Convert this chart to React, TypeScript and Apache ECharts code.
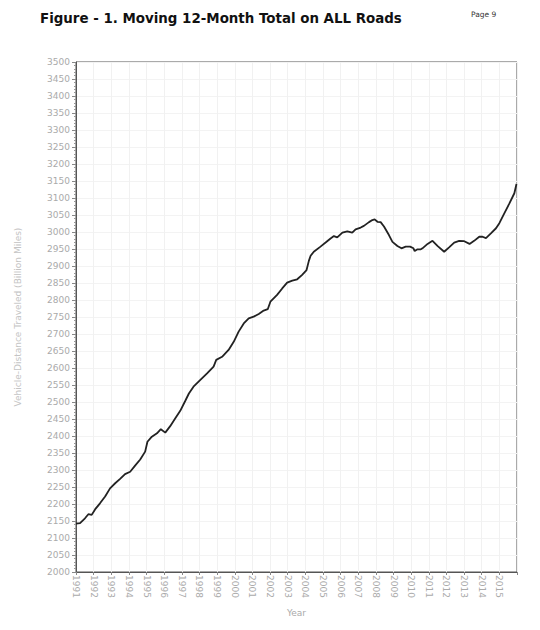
import React, { useEffect, useRef } from "react";
import * as echarts from "echarts";

const titleText = "Figure - 1. Moving 12-Month Total on ALL Roads";
const pageText = "Page 9";
const xAxisName = "Year";
const yAxisName = "Vehicle-Distance Traveled (Billion Miles)";

// decimal year positions
const years: number[] = [
  1991.0, 1991.23, 1991.51, 1991.7, 1991.89, 1992.08, 1992.36, 1992.65, 1992.93,
  1993.22, 1993.5, 1993.78, 1994.07, 1994.35, 1994.64, 1994.92, 1995.05, 1995.3,
  1995.59, 1995.81, 1996.06, 1996.34, 1996.63, 1996.91, 1997.19, 1997.4, 1997.66,
  1998.05, 1998.43, 1998.8, 1998.95, 1999.28, 1999.65, 1999.94, 2000.22, 2000.51,
  2000.79, 2001.07, 2001.36, 2001.64, 2001.87, 2002.02, 2002.4, 2002.69, 2002.97,
  2003.26, 2003.54, 2003.82, 2004.07, 2004.2, 2004.3, 2004.48, 2004.86, 2005.15,
  2005.43, 2005.62, 2005.81, 2006.1, 2006.38, 2006.66, 2006.85, 2007.14, 2007.32,
  2007.61, 2007.8, 2007.93, 2008.09, 2008.27, 2008.46, 2008.74, 2008.94, 2009.22,
  2009.45, 2009.69, 2009.94, 2010.13, 2010.2, 2010.36, 2010.55, 2010.64, 2010.93,
  2011.21, 2011.49, 2011.87, 2012.15, 2012.44, 2012.72, 2013.01, 2013.31, 2013.57,
  2013.86, 2014.05, 2014.24, 2014.52, 2014.81, 2015.0, 2015.28, 2015.57, 2015.85,
  2015.97,
];

// moving 12-month total, billion miles
const vmt: number[] = [
  2142, 2144, 2158, 2170, 2168, 2184, 2202, 2222, 2246,
  2261, 2274, 2288, 2295, 2313, 2331, 2354, 2383, 2398,
  2408, 2420, 2410, 2429, 2452, 2474, 2503, 2525, 2545,
  2565, 2584, 2604, 2624, 2633, 2653, 2677, 2707, 2731,
  2746, 2751, 2759, 2769, 2773, 2795, 2815, 2834, 2851,
  2857, 2861, 2874, 2888, 2915, 2930, 2942, 2957, 2969,
  2981, 2988, 2984, 2998, 3002, 2998, 3008, 3013, 3018,
  3029, 3035, 3037, 3030, 3029, 3016, 2991, 2971, 2959,
  2952, 2957, 2957, 2952, 2944, 2949, 2949, 2952, 2965,
  2974, 2959, 2942, 2955, 2969, 2974, 2973, 2965, 2974,
  2986, 2986, 2982, 2996, 3011, 3026, 3055, 3084, 3114,
  3141,
];

const yMin = 2000;
const yMax = 3500;
const yStep = 50;
const xMin = 1991;
const xMax = 2016;

export default function App() {
  const ref = useRef<HTMLDivElement>(null);
  useEffect(() => {
    if (!ref.current) return;
    const chart = echarts.init(ref.current, null, { renderer: "svg" });
    const font = "'DejaVu Sans', Verdana, sans-serif";
    chart.setOption({
      animation: false,
      backgroundColor: "#ffffff",
      title: [
        {
          text: titleText,
          left: 40,
          top: 12,
          padding: 0,
          textStyle: { fontFamily: font, fontWeight: "bold", fontSize: 13.4, color: "#111" },
        },
        {
          text: pageText,
          left: 471,
          top: 10,
          padding: 0,
          textStyle: { fontFamily: font, fontWeight: "normal", fontSize: 7.5, color: "#333" },
        },
      ],
      grid: {
        left: 76,
        right: 23,
        top: 62,
        bottom: 58,
        show: true,
        borderColor: "#555",
        borderWidth: 1,
      },
      xAxis: {
        type: "value",
        min: xMin,
        max: xMax,
        interval: 1,
        name: xAxisName,
        nameLocation: "middle",
        nameGap: 36,
        nameTextStyle: { fontFamily: font, fontSize: 9, color: "#aaa" },
        axisLine: { show: true, lineStyle: { color: "#555" } },
        axisTick: { show: true, length: 3, lineStyle: { color: "#888" } },
        axisLabel: {
          rotate: -90,
          fontFamily: font,
          fontSize: 9,
          color: "#aaa",
          margin: 3,
          formatter: (v: number) => (v >= xMax ? "" : String(Math.round(v))),
        },
        splitLine: { show: true, lineStyle: { color: "#f1f1f1" } },
      },
      yAxis: {
        type: "value",
        min: yMin,
        max: yMax,
        interval: yStep,
        name: yAxisName,
        nameLocation: "middle",
        nameGap: 54,
        nameTextStyle: { fontFamily: font, fontSize: 9, color: "#c4c4c4" },
        axisLine: { show: true, lineStyle: { color: "#555" } },
        axisTick: { show: true, length: 4, lineStyle: { color: "#888" } },
        minorTick: { show: true, splitNumber: 5, length: 2, lineStyle: { color: "#999" } },
        axisLabel: {
          fontFamily: font,
          fontSize: 9,
          color: "#aaa",
          margin: 6,
          formatter: (v: number) => String(v),
        },
        splitLine: { show: true, lineStyle: { color: "#f3f3f3" } },
      },
      series: [
        {
          type: "line",
          data: years.map((y, i) => [y, vmt[i]]),
          showSymbol: false,
          smooth: false,
          lineStyle: { color: "#222", width: 1.8 },
        },
      ],
    });
    return () => chart.dispose();
  }, []);
  return (
    <div
      ref={ref}
      style={{ position: "fixed", left: 0, top: 0, width: 540, height: 630 }}
    />
  );
}
